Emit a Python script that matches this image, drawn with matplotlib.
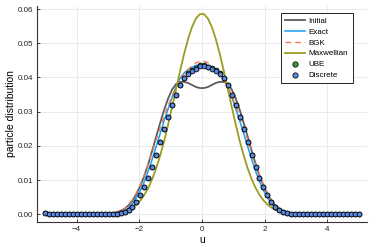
import numpy as np
import matplotlib
matplotlib.use("Agg")
import matplotlib.pyplot as plt

plt.rcParams['font.family'] = ['Liberation Sans', 'DejaVu Sans']

# velocity grid
u = np.linspace(-5, 5, 80)

initial = [0, 0, 0, 0, 0, 0, 0, 0, 0, 0, 0, 0,
           0.00001, 0.00003, 0.00005, 0.0001, 0.0002, 0.00035, 0.0006, 0.0010,
           0.0016, 0.0026, 0.0040, 0.0059, 0.0084, 0.0113, 0.0148, 0.0187,
           0.0228, 0.0268, 0.0306, 0.0339, 0.0365, 0.0381, 0.0387, 0.0387,
           0.0384, 0.0378, 0.0372, 0.0369,
           0.0369, 0.0372, 0.0378, 0.0384, 0.0387, 0.0387, 0.0381, 0.0365,
           0.0339, 0.0306, 0.0268, 0.0228, 0.0187, 0.0148, 0.0113, 0.0084,
           0.0059, 0.0040, 0.0026, 0.0016, 0.0010, 0.0006, 0.00035, 0.0002,
           0.0001, 0.00005, 0.00003, 0.00001,
           0, 0, 0, 0, 0, 0, 0, 0, 0, 0, 0, 0]

exact = [0, 0, 0, 0, 0, 0, 0, 0, 0, 0, 0, 0,
         0, 0.000005, 0.00001, 0.00003, 0.00006, 0.00012, 0.00025, 0.0005,
         0.0010, 0.0018, 0.0031, 0.0049, 0.0070, 0.0096, 0.0127, 0.0162,
         0.0199, 0.0237, 0.0274, 0.0309, 0.0343, 0.0374, 0.0398, 0.0413,
         0.0423, 0.0430, 0.0435, 0.0437,
         0.0437, 0.0435, 0.0430, 0.0423, 0.0413, 0.0398, 0.0374, 0.0343,
         0.0309, 0.0274, 0.0237, 0.0199, 0.0162, 0.0127, 0.0096, 0.0070,
         0.0049, 0.0031, 0.0018, 0.0010, 0.0005, 0.00025, 0.00012, 0.00006,
         0.00003, 0.00001, 0.000005, 0,
         0, 0, 0, 0, 0, 0, 0, 0, 0, 0, 0, 0]

bgk = [0, 0, 0, 0, 0, 0, 0, 0, 0, 0, 0, 0,
       0.00001, 0.00002, 0.00004, 0.00008, 0.00015, 0.0003, 0.0006, 0.0010,
       0.0017, 0.0028, 0.0043, 0.0063, 0.0087, 0.0115, 0.0148, 0.0183,
       0.0219, 0.0254, 0.0287, 0.0318, 0.0347, 0.0372, 0.0393, 0.0410,
       0.0423, 0.0434, 0.0443, 0.0447,
       0.0447, 0.0443, 0.0434, 0.0423, 0.0410, 0.0393, 0.0372, 0.0347,
       0.0318, 0.0287, 0.0254, 0.0219, 0.0183, 0.0148, 0.0115, 0.0087,
       0.0063, 0.0043, 0.0028, 0.0017, 0.0010, 0.0006, 0.0003, 0.00015,
       0.00008, 0.00004, 0.00002, 0.00001,
       0, 0, 0, 0, 0, 0, 0, 0, 0, 0, 0, 0]

maxwellian = [0, 0, 0, 0, 0, 0, 0, 0, 0, 0, 0, 0,
              0.000013, 0.000024, 0.000043, 0.000075, 0.00013, 0.00021, 0.00035, 0.00055,
              0.00086, 0.00131, 0.00196, 0.00285, 0.00407, 0.00569, 0.00775, 0.01036,
              0.01352, 0.01726, 0.02153, 0.02632, 0.03145, 0.03671, 0.04196, 0.04687,
              0.05123, 0.05475, 0.05725, 0.05854,
              0.05854, 0.05725, 0.05475, 0.05123, 0.04687, 0.04196, 0.03671, 0.03145,
              0.02632, 0.02153, 0.01726, 0.01352, 0.01036, 0.00775, 0.00569, 0.00407,
              0.00285, 0.00196, 0.00131, 0.00086, 0.00055, 0.00035, 0.00021, 0.00013,
              0.000075, 0.000043, 0.000024, 0.000013,
              0, 0, 0, 0, 0, 0, 0, 0, 0, 0, 0, 0]

ube = [0.0003, 0, 0, 0, 0, 0, 0, 0, 0, 0, 0, 0,
       0, 0.00001, 0.00002, 0.00003, 0.00005, 0.0001, 0.00015, 0.0003,
       0.0006, 0.0011, 0.0021, 0.0037, 0.0057, 0.0080, 0.0107, 0.0139,
       0.0174, 0.0212, 0.0249, 0.0285, 0.0318, 0.0349, 0.0377, 0.0399,
       0.0413, 0.0421, 0.0427, 0.0435,
       0.0435, 0.0432, 0.0427, 0.0421, 0.0413, 0.0399, 0.0377, 0.0349,
       0.0318, 0.0285, 0.0249, 0.0212, 0.0174, 0.0139, 0.0107, 0.0080,
       0.0057, 0.0037, 0.0021, 0.0011, 0.0006, 0.0003, 0.00015, 0.0001,
       0.00005, 0.00003, 0.00002, 0.00001,
       0, 0, 0, 0, 0, 0, 0, 0, 0, 0, 0, 0]

discrete = [0.0003, 0, 0, 0, 0, 0, 0, 0, 0, 0, 0, 0,
            0, 0.00001, 0.00002, 0.00003, 0.00005, 0.0001, 0.00015, 0.0003,
            0.0006, 0.0011, 0.0021, 0.0037, 0.0057, 0.0080, 0.0107, 0.0139,
            0.0174, 0.0212, 0.0249, 0.0285, 0.0318, 0.0349, 0.0377, 0.0399,
            0.0411, 0.0419, 0.0425, 0.0433,
            0.0433, 0.0430, 0.0425, 0.0419, 0.0411, 0.0399, 0.0377, 0.0349,
            0.0318, 0.0285, 0.0249, 0.0212, 0.0174, 0.0139, 0.0107, 0.0080,
            0.0057, 0.0037, 0.0021, 0.0011, 0.0006, 0.0003, 0.00015, 0.0001,
            0.00005, 0.00003, 0.00002, 0.00001,
            0, 0, 0, 0, 0, 0, 0, 0, 0, 0, 0, 0]

xticks = [-4, -2, 0, 2, 4]
yticks = [0.00, 0.01, 0.02, 0.03, 0.04, 0.05, 0.06]

fig = plt.figure(figsize=(3.74, 2.49), dpi=100)
ax = fig.add_axes([0.099, 0.108, 0.881, 0.868])

ax.plot(u, initial, color="#5c5c5c", lw=1.3, label="Initial", zorder=2)
ax.plot(u, exact, color="#1a9ef0", lw=1.1, label="Exact", zorder=3)
ax.plot(u, bgk, color="#ec7a55", lw=1.0, ls=(0, (4, 3)), label="BGK", zorder=3)
ax.plot(u, maxwellian, color="#9d9c22", lw=1.3, label="Maxwellian", zorder=4)
ax.scatter(u, ube, s=12, color="#3a9a3a", edgecolors="black", linewidths=0.55,
           label="UBE", zorder=5)
ax.scatter(u, discrete, s=12, color="#5a88e0", edgecolors="black", linewidths=0.55,
           label="Discrete", zorder=6)

ax.set_xlim(-5.26, 5.25)
ax.set_ylim(-0.0023, 0.0609)
ax.set_xticks(xticks)
ax.set_xticklabels([("\u2212" + str(-t)) if t < 0 else str(t) for t in xticks])
ax.set_yticks(yticks)
ax.set_yticklabels([f"{t:.2f}" for t in yticks])

ax.grid(True, color="#e8e8e8", lw=0.6)
ax.set_axisbelow(True)
for s in ["top", "right"]:
    ax.spines[s].set_visible(False)
for s in ["left", "bottom"]:
    ax.spines[s].set_color("#333333")
    ax.spines[s].set_linewidth(0.8)
ax.tick_params(direction="in", length=2.5, width=0.6, labelsize=5.8,
               colors="#222222", pad=3)

ax.set_xlabel("u", fontsize=7.5, labelpad=1)
ax.set_ylabel("particle distribution", fontsize=7.5, labelpad=1)

leg = ax.legend(loc="upper right", bbox_to_anchor=(0.97, 0.985), fontsize=5.8,
                frameon=True, fancybox=False, edgecolor="black", framealpha=1,
                handlelength=2.5, handletextpad=0.4, borderpad=0.55,
                labelspacing=0.38, markerscale=1.1)
leg.get_frame().set_linewidth(0.6)

fig.savefig("out.png", dpi=100)
